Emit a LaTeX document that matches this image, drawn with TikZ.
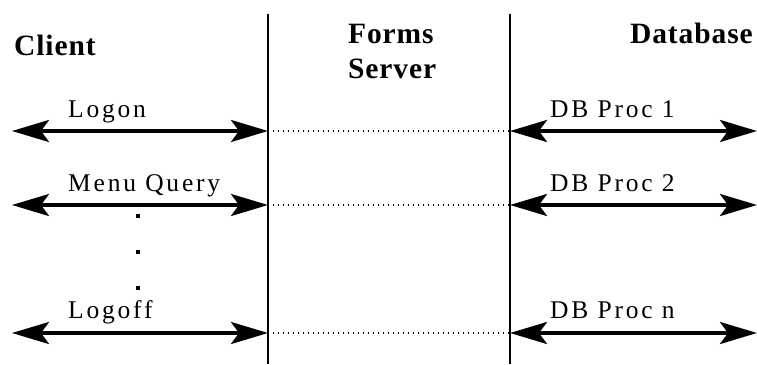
\documentclass[tikz,border=0pt]{standalone}
\usepackage{fontspec}
\setmainfont{Liberation Serif}
\newfontfamily\lblfont{Liberation Serif}[LetterSpace=11]
\newfontfamily\hdrfont{Liberation Serif Bold}[LetterSpace=3]
\usetikzlibrary{arrows.meta}
\begin{document}
\begin{tikzpicture}[x=1pt,y=-1pt,
  lbl/.style={anchor=base west,inner sep=0pt,font=\lblfont\fontsize{25.5}{30}\selectfont},
  hdr/.style={anchor=base west,inner sep=0pt,font=\hdrfont\fontsize{29.5}{34}\selectfont},
  flow/.style={line width=3.5pt,{Stealth[length=37pt,width=22pt,inset=8pt]}-{Stealth[length=37pt,width=22pt,inset=8pt]}},
  tier/.style={line width=2pt},
  relay/.style={line width=1.2pt,dash pattern=on 1.2pt off 3.8pt},
  dotmark/.style={fill=black,inner sep=0pt,minimum size=3.5pt}]
\useasboundingbox (0,0) rectangle (757,364);
% tier boundaries
\coordinate (v1t) at (268,14); \coordinate (v1b) at (268,364);
\coordinate (v2t) at (510,14); \coordinate (v2b) at (510,364);
\draw[tier] (v1t) -- (v1b);
\draw[tier] (v2t) -- (v2b);
% headers
\node[hdr] (client) at (14,55) {Client};
\node[hdr] (forms) at (348,43) {Forms};
\node[hdr] (server) at (348,78) {Server};
\node[hdr] (db) at (630,43) {Database};
% arrow endpoints
\coordinate (c1) at (12,131);  \coordinate (s1l) at (268,131); \coordinate (s1r) at (510,131); \coordinate (d1) at (757,131);
\coordinate (c2) at (12,205);  \coordinate (s2l) at (268,205); \coordinate (s2r) at (510,205); \coordinate (d2) at (757,205);
\coordinate (c3) at (12,333);  \coordinate (s3l) at (268,333); \coordinate (s3r) at (510,333); \coordinate (d3) at (757,333);
% labels
\node[lbl] (logon) at (68,117) {Logon};
\node[lbl] (menu) at (68,191) {Menu Query};
\node[lbl] (logoff) at (68,318) {Logoff};
\node[lbl] (p1) at (550,117) {DB Proc 1};
\node[lbl] (p2) at (550,191) {DB Proc 2};
\node[lbl] (pn) at (550,318) {DB Proc n};
% connectors
\draw[flow] (c1) -- (s1l);
\draw[flow] (c2) -- (s2l);
\draw[flow] (c3) -- (s3l);
\draw[flow] (s1r) -- (d1);
\draw[flow] (s2r) -- (d2);
\draw[flow] (s3r) -- (d3);
\draw[relay] (s1l) -- (s1r);
\draw[relay] (s2l) -- (s2r);
\draw[relay] (s3l) -- (s3r);
% ellipsis dots
\node[dotmark] (e1) at (138,216) {};
\node[dotmark] (e2) at (138,252) {};
\node[dotmark] (e3) at (138,288) {};
\end{tikzpicture}
\end{document}
